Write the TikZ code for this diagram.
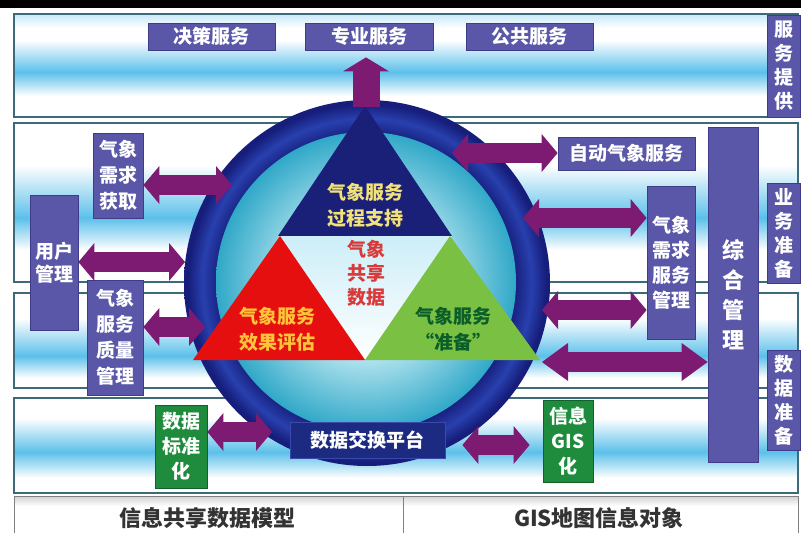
\documentclass[tikz,border=0pt]{standalone}
\usepackage{fontspec}
\setmainfont{Noto Sans CJK SC}
\usetikzlibrary{arrows.meta,calc}
\definecolor{boxc}{HTML}{5A57A8}
\definecolor{boxedge}{HTML}{3E3B88}
\definecolor{gboxc}{HTML}{1E8C3C}
\definecolor{gboxedge}{HTML}{14602A}
\definecolor{navyc}{HTML}{1C2A82}
\definecolor{navyedge}{HTML}{3A4AA8}
\definecolor{arrowc}{HTML}{7D1A72}
\definecolor{bandblue}{HTML}{5CC0EA}
\definecolor{bandline}{HTML}{3D6A78}
\definecolor{ringdark}{HTML}{161D7A}
\definecolor{ringlight}{HTML}{2840AE}
\definecolor{discwhite}{HTML}{EEFAFC}
\definecolor{discmid}{HTML}{B8E6F0}
\definecolor{discedge}{HTML}{30A8C8}
\definecolor{trinavy}{HTML}{1A1F78}
\definecolor{trired}{HTML}{E60F0F}
\definecolor{trigreen}{HTML}{7AC143}
\definecolor{goldtext}{HTML}{F2E27A}
\definecolor{redtext}{HTML}{D83A3A}
\definecolor{orangetext}{HTML}{FFC43A}
\definecolor{greentext}{HTML}{0B5D2A}
\definecolor{centertop}{HTML}{CDEEF8}
\pgfdeclareradialshading{ringshade}{\pgfpoint{0bp}{0bp}}{color(0bp)=(ringdark); color(20bp)=(ringdark); color(22.5bp)=(ringlight); color(24.5bp)=(ringdark); color(50bp)=(ringdark)}
\pgfdeclareradialshading{discshade}{\pgfpoint{0bp}{0bp}}{color(0bp)=(discwhite); color(12bp)=(discmid); color(25bp)=(discedge); color(50bp)=(discedge)}
\begin{document}
\begin{tikzpicture}[x=1pt,y=-1pt,
  box/.style={draw=boxedge, fill=boxc, line width=0.8pt, text=white, inner sep=0pt, align=center, font=\bfseries\fontsize{19}{26}\selectfont},
  gbox/.style={box, fill=gboxc, draw=gboxedge, font=\bfseries\fontsize{19}{25}\selectfont},
  nbox/.style={box, fill=navyc, draw=navyedge},
  vlab/.style={box, font=\bfseries\fontsize{19}{24}\selectfont},
  bandframe/.style={draw=bandline, line width=1.2pt},
  tritext/.style={align=center, inner sep=0pt, font=\bfseries\fontsize{19}{26}\selectfont},
  dbl/.style={draw=arrowc, line width=20pt, {Triangle[length=16pt,width=38pt,line width=0pt]}-{Triangle[length=16pt,width=38pt,line width=0pt]}},
  dbllong/.style={draw=arrowc, line width=20pt, {Triangle[length=26pt,width=38pt,line width=0pt]}-{Triangle[length=26pt,width=38pt,line width=0pt]}},
  uparrow/.style={draw=arrowc, line width=27pt, -{Triangle[length=14pt,width=46pt,line width=0pt]}}
]
\useasboundingbox (0,0) rectangle (801,533);
\fill[white] (0,0) rectangle (801,533);
\fill[black] (0,0) rectangle (801,8);

% band 1
\fill[white] (14,14) rectangle (798,117);
\shade[top color=bandblue!35, bottom color=white] (14,14) rectangle (798,28);
\shade[top color=white, bottom color=bandblue] (14,40) rectangle (798,72);
\shade[top color=bandblue, bottom color=white] (14,72) rectangle (798,96);
\draw[bandframe] (14,14) rectangle (798,117);
% band 2
\fill[white] (14,123) rectangle (798,282);
\shade[top color=white, bottom color=bandblue] (14,165) rectangle (798,218);
\shade[top color=bandblue, bottom color=white] (14,218) rectangle (798,250);
\draw[bandframe] (14,123) rectangle (798,282);
% band 3
\fill[white] (14,293) rectangle (798,388);
\shade[top color=white, bottom color=bandblue] (14,318) rectangle (798,356);
\shade[top color=bandblue, bottom color=white] (14,356) rectangle (798,378);
\draw[bandframe] (14,293) rectangle (798,388);
% band 4
\fill[white] (14,398) rectangle (798,493);
\shade[top color=white, bottom color=bandblue] (14,418) rectangle (798,452);
\shade[top color=bandblue, bottom color=white] (14,452) rectangle (798,478);
\draw[bandframe] (14,398) rectangle (798,493);
% bottom bar
\shade[top color=gray!35, bottom color=white] (14,496) rectangle (798,506);
\fill[white] (14,506) rectangle (798,533);
\draw[gray, line width=1pt] (14,496) rectangle (798,533);
\draw[gray, line width=1pt] (403,496) -- (403,533);
\node[font=\bfseries\fontsize{22}{26}\selectfont, text=black!80] (bl) at (207,518) {信息共享数据模型};
\node[font=\bfseries\fontsize{22}{26}\selectfont, text=black!80] (br) at (599,518) {GIS地图信息对象};

% ring and disc
\node[circle, inner sep=0pt, minimum size=366pt, shading=ringshade] (ring) at (367,283) {};
\node[circle, inner sep=0pt, minimum size=300pt, shading=discshade] (disc) at (366,282) {};

% triangles
\fill[trinavy] (278,236) -- (365,106) -- (452,236) -- cycle;
\shade[top color=centertop, bottom color=white] (278,236) -- (452,236) -- (365,360) -- cycle;
\fill[trired] (193,360) -- (280,236) -- (365,360) -- cycle;
\fill[trigreen] (365,360) -- (450,236) -- (540,360) -- cycle;

\node[tritext, text=goldtext] (t1) at (365,205) {气象服务\\过程支持};
\node[tritext, text=redtext, font=\bfseries\fontsize{19}{24}\selectfont] (t2) at (366,273) {气象\\共享\\数据};
\node[tritext, text=orangetext] (t3) at (277,329) {气象服务\\效果评估};
\node[tritext, text=greentext] (t4) at (453,329) {气象服务\\“准备”};

% boxes
\node[box, minimum width=127pt, minimum height=27pt] (jc) at (211.5,36.5) {决策服务};
\node[box, minimum width=128pt, minimum height=27pt] (zy) at (369,36.5) {专业服务};
\node[box, minimum width=127pt, minimum height=27pt] (gg) at (529.5,36.5) {公共服务};
\node[vlab, minimum width=33pt, minimum height=102pt] (fwtg) at (783.5,66) {服\\务\\提\\供};
\node[box, minimum width=50pt, minimum height=85pt] (xqhq) at (118,175.5) {气象\\需求\\获取};
\node[box, minimum width=48pt, minimum height=135pt, font=\bfseries\fontsize{19}{23}\selectfont] (yhgl) at (54,262.5) {用户\\管理};
\node[box, minimum width=56pt, minimum height=115pt] (zlgl) at (115,337.5) {气象\\服务\\质量\\管理};
\node[box, minimum width=137pt, minimum height=33pt] (zdqx) at (626.5,153.5) {自动气象服务};
\node[box, minimum width=48pt, minimum height=153pt, font=\bfseries\fontsize{19}{25}\selectfont] (xqfw) at (671,263) {气象\\需求\\服务\\管理};
\node[box, minimum width=50pt, minimum height=335pt, font=\bfseries\fontsize{22}{30}\selectfont] (zhgl) at (733,294.5) {综\\合\\管\\理};
\node[vlab, minimum width=33pt, minimum height=100pt] (ywzb) at (783.5,233) {业\\务\\准\\备};
\node[vlab, minimum width=33pt, minimum height=100pt] (sjzb) at (783.5,400) {数\\据\\准\\备};
\node[gbox, minimum width=52pt, minimum height=83pt] (sjbz) at (181,446.5) {数据\\标准\\化};
\node[gbox, minimum width=50pt, minimum height=82pt] (gis) at (568,441) {信息\\GIS\\化};
\node[nbox, minimum width=155pt, minimum height=36pt] (sjjh) at (367.5,440) {数据交换平台};

% arrow free ends on the ring
\coordinate (a2) at (232,185);
\coordinate (a3) at (185,262);
\coordinate (a4) at (205,327);
\coordinate (a5) at (272,432);
\coordinate (a7) at (452,153);
\coordinate (a8) at (523,218);
\coordinate (a9) at (542,310);
\coordinate (a10) at (542,362);

% arrows
\draw[uparrow] ($(zy.south)+(-3,57)$) -- ($(zy.south)+(-3,7)$);
\draw[dbl] (xqhq.east |- a2) -- (a2);
\draw[dbl] (yhgl.east |- a3) -- (a3);
\draw[dbl] (zlgl.east |- a4) -- (a4);
\draw[dbl] (sjbz.east |- a5) -- (a5);
\draw[dbl] ($(sjjh.east)+(17,5)$) -- ($(gis.west)+(-13,4)$);
\draw[dbl] (a7) -- (zdqx.west |- a7);
\draw[dbl] (a8) -- (xqfw.west |- a8);
\draw[dbl] (a9) -- (xqfw.west |- a9);
\draw[dbllong] (a10) -- (zhgl.west |- a10);
\end{tikzpicture}
\end{document}
